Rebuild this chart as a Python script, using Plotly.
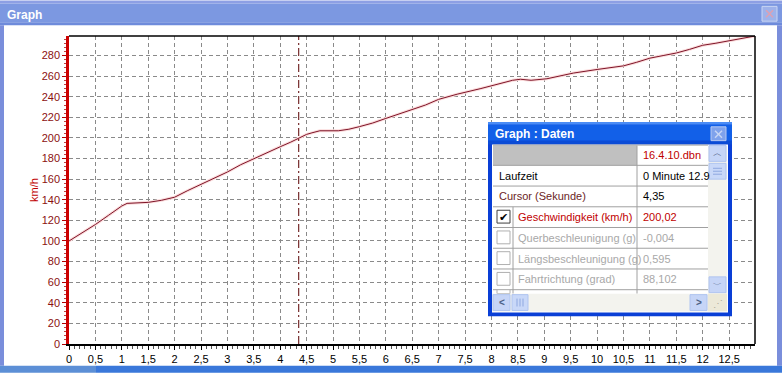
import plotly.graph_objects as go

# ---------------- data ----------------
time_s = [0, 0.25, 0.5, 0.75, 1.0, 1.1, 1.3, 1.5, 1.75, 2.0, 2.25, 2.5, 2.75, 3.0, 3.25, 3.5,
          3.75, 4.0, 4.2, 4.35, 4.5, 4.6, 4.75, 5.1, 5.3, 5.5, 5.75, 6.0, 6.25, 6.5, 6.75,
          7.0, 7.35, 7.8, 8.1, 8.4, 8.55, 8.75, 9.05, 9.3, 9.55, 10.0, 10.5, 10.75, 11.0,
          11.25, 11.5, 11.75, 12.0, 12.25, 12.5, 12.75, 12.99]
speed_kmh = [100, 108, 116, 125, 134, 136.5, 137, 137.5, 139.5, 142.5, 149, 155, 161, 167, 174, 180,
             185.5, 191.5, 196, 200, 203.5, 205, 207, 207, 208.5, 211, 214.5, 219, 223.5, 227.5, 232,
             237.5, 242.5, 248, 252, 256, 257, 256, 257.5, 260, 263, 266.5, 270, 273.5, 277.5,
             280, 282.5, 286, 290, 292, 294.5, 296.5, 299]
cursor_s = 4.35

x_tickvals = [0, 0.5, 1, 1.5, 2, 2.5, 3, 3.5, 4, 4.5, 5, 5.5, 6, 6.5, 7, 7.5, 8, 8.5, 9, 9.5,
              10, 10.5, 11, 11.5, 12, 12.5]
x_ticktext = ["0", "0,5", "1", "1,5", "2", "2,5", "3", "3,5", "4", "4,5", "5", "5,5", "6", "6,5",
              "7", "7,5", "8", "8,5", "9", "9,5", "10", "10,5", "11", "11,5", "12", "12,5"]
y_tickvals = [0, 20, 40, 60, 80, 100, 120, 140, 160, 180, 200, 220, 240, 260, 280]

table_labels = ["Laufzeit", "Cursor (Sekunde)", "Geschwindigkeit (km/h)", "Querbeschleunigung (g)",
                "Längsbeschleunigung (g)", "Fahrtrichtung (grad)"]
table_values = ["0 Minute 12.9", "4,35", "200,02", "-0,004", "0,595", "88,102"]
file_name = "16.4.10.dbn"

# ---------------- geometry helpers (pixel -> paper) ----------------
W, H = 782, 377
L, R, T, B = 69, 755, 36, 348
FONT = "Liberation Sans"


def fx(px):
    return (px - L) / (R - L)


def fy(py):
    return (B - py) / (B - T)


shapes = []
annos = []


def rect(x0, y0, x1, y1, fill, line=None, lw=0):
    shapes.append(dict(type="rect", xref="paper", yref="paper",
                       x0=fx(x0), x1=fx(x1), y0=fy(y1), y1=fy(y0),
                       fillcolor=fill, line=dict(color=line or fill, width=lw), layer="above"))


def hline(x0, x1, y, color, lw=1, dash=None):
    shapes.append(dict(type="line", xref="paper", yref="paper", x0=fx(x0), x1=fx(x1),
                       y0=fy(y), y1=fy(y), line=dict(color=color, width=lw, dash=dash), layer="above"))


def vline(x, y0, y1, color, lw=1):
    shapes.append(dict(type="line", xref="paper", yref="paper", x0=fx(x), x1=fx(x),
                       y0=fy(y0), y1=fy(y1), line=dict(color=color, width=lw), layer="above"))


def seg(x0, y0, x1, y1, color, lw=1):
    shapes.append(dict(type="line", xref="paper", yref="paper", x0=fx(x0), x1=fx(x1),
                       y0=fy(y0), y1=fy(y1), line=dict(color=color, width=lw), layer="above"))


def text(x, y, s, color="#000000", size=11, bold=False, xanchor="left", angle=0):
    annos.append(dict(xref="paper", yref="paper", x=fx(x), y=fy(y), text=f"<b>{s}</b>" if bold else s,
                      showarrow=False, xanchor=xanchor, yanchor="middle", textangle=angle,
                      font=dict(family=FONT, size=size, color=color)))


# ---------------- figure ----------------
fig = go.Figure()
fig.add_trace(go.Scatter(x=time_s, y=speed_kmh, mode="lines",
                         line=dict(color="#FBDCDC", width=3), hoverinfo="skip", showlegend=False))
fig.add_trace(go.Scatter(x=time_s, y=speed_kmh, mode="lines",
                         line=dict(color="#7E1428", width=1), showlegend=False))

# cursor line
shapes.append(dict(type="line", xref="x", yref="paper", x0=cursor_s, x1=cursor_s, y0=0, y1=1,
                   line=dict(color="#5A0000", width=1, dash="8px,3px,2px,3px"), layer="above"))

# plot top / right border
hline(L, R, T, "#000000", 1.5)
vline(R, T, B, "#000000", 1.5)

# y-axis title
text(34, 192, "km/h", color="#C00000", size=11, xanchor="center", angle=-90)

# ---------------- main window frame ----------------
rect(0, 0, W, 3, "#8D9FE4")
rect(0, 3, W, 22, "#7C98E1")
rect(0, 22, W, 25, "#6E8BDB")
rect(0, 25, 4, 370, "#7A8EDB")
rect(777, 25, W, 370, "#7A8EDB")
rect(0, 370, 96, H, "#5C8FD6")
rect(96, 370, W, H, "#3A78DA")
text(5, 15, "Graph", color="#FFFFFF", size=12, bold=True)
rect(762, 6, 777, 21, "#9EB2EA", "#C9D5F3", 1)
seg(766, 10, 773, 17, "#E0A0B0", 1.5)
seg(773, 10, 766, 17, "#E0A0B0", 1.5)

# ---------------- floating window "Graph : Daten" ----------------
rect(488, 123, 732, 320, "#0A3FD6")
rect(488, 123, 732, 126, "#4A8CF6")
rect(488, 126, 732, 142, "#1260E8")
rect(488, 142, 732, 146, "#0B4BD6")
text(493, 135, "Graph : Daten", color="#FFFFFF", size=12, bold=True)
rect(711, 128, 726, 142, "#7FA2EC", "#B7C9F3", 1)
seg(715, 132, 722, 139, "#C9D6F5", 1.5)
seg(722, 132, 715, 139, "#C9D6F5", 1.5)

# body
rect(492, 146, 728, 316, "#FFFFFF")
# header row
rect(493, 147, 637, 167, "#C0C0C0")
text(641, 157, file_name, color="#C00000", size=11)

row_top = 167
row_h = 21
for i in range(8):
    hline(493, 708, row_top + i * row_h if i < 7 else 146.5, "#A0A0A0", 1)
vline(637, 147, 297, "#A0A0A0", 1)
vline(513, 209, 297, "#A0A0A0", 1)

label_colors = ["#000000", "#6B1E1E", "#C00000", "#A8A8A8", "#A8A8A8", "#A8A8A8"]
value_colors = ["#000000", "#000000", "#C00000", "#A8A8A8", "#A8A8A8", "#A8A8A8"]
for i, (lab, val) in enumerate(zip(table_labels, table_values)):
    yc = row_top + i * row_h + row_h / 2
    if i >= 2:
        bc = "#404040" if i == 2 else "#B0B0B0"
        rect(497, yc - 7, 510, yc + 6, "#FFFFFF", bc, 1)
        if i == 2:
            text(503.5, yc, "✔", color="#000000", size=11, xanchor="center")
        text(516, yc, lab, color=label_colors[i], size=11)
    else:
        text(497, yc, lab, color=label_colors[i], size=11)
    text(641, yc, val, color=value_colors[i], size=11)
# partial row checkbox
rect(497, 293, 510, 297, "#FFFFFF", "#B0B0B0", 1)

# vertical scrollbar
rect(708, 147, 727, 297, "#F3F3EE")
rect(709, 147, 726, 163, "#C6D5F7", "#AFC4F0", 1)
text(717.5, 155, "︿", color="#4D6185", size=9, xanchor="center")
rect(709, 165, 726, 181, "#C9D8F8", "#AFC4F0", 1)
for yy in (170, 173, 176):
    hline(713, 722, yy, "#8FA8E0", 1)
rect(709, 280, 726, 296, "#C6D5F7", "#AFC4F0", 1)
text(717.5, 288, "﹀", color="#4D6185", size=9, xanchor="center")

# horizontal scrollbar
rect(492, 297, 708, 315, "#F3F3EE")
rect(493, 298, 510, 314, "#C6D5F7", "#AFC4F0", 1)
text(501.5, 306, "<", color="#4D6185", size=10, bold=True, xanchor="center")
rect(512, 298, 528, 314, "#C9D8F8", "#AFC4F0", 1)
for xx in (517, 520, 523):
    vline(xx, 302, 310, "#8FA8E0", 1)
rect(690, 298, 707, 314, "#C6D5F7", "#AFC4F0", 1)
text(698.5, 306, ">", color="#4D6185", size=10, bold=True, xanchor="center")
rect(708, 297, 727, 315, "#ECE9D8")
text(717.5, 307, "⋰", color="#B0AE9E", size=10, xanchor="center")

# ---------------- layout ----------------
fig.update_layout(
    width=W, height=H,
    margin=dict(l=L, r=W - R, t=T, b=H - B, pad=0),
    paper_bgcolor="#FFFFFF", plot_bgcolor="#FFFFFF",
    shapes=shapes, annotations=annos,
    font=dict(family=FONT, size=11),
    xaxis=dict(range=[0, 12.99], tickmode="array", tickvals=x_tickvals, ticktext=x_ticktext,
               showline=True, linecolor="#000000", linewidth=2,
               ticks="outside", ticklen=4, tickcolor="#000000", tickwidth=1,
               minor=dict(dtick=0.1, ticks="outside", ticklen=3, tickcolor="#555555", showgrid=False),
               showgrid=True, gridcolor="#8A8A8A", gridwidth=1, griddash="4px,3px",
               tickfont=dict(family=FONT, size=11, color="#000000"), zeroline=False,
               fixedrange=True),
    yaxis=dict(range=[0, 299], tickmode="array", tickvals=y_tickvals,
               showline=True, linecolor="#CC0000", linewidth=2.5,
               ticks="outside", ticklen=4, tickcolor="#B00000", tickwidth=1,
               minor=dict(dtick=4, ticks="outside", ticklen=2, tickcolor="#C04040", showgrid=False),
               showgrid=True, gridcolor="#8A8A8A", gridwidth=1, griddash="4px,3px",
               tickfont=dict(family=FONT, size=11, color="#8B1010"), zeroline=False,
               fixedrange=True),
)

fig.write_html("out.html")
